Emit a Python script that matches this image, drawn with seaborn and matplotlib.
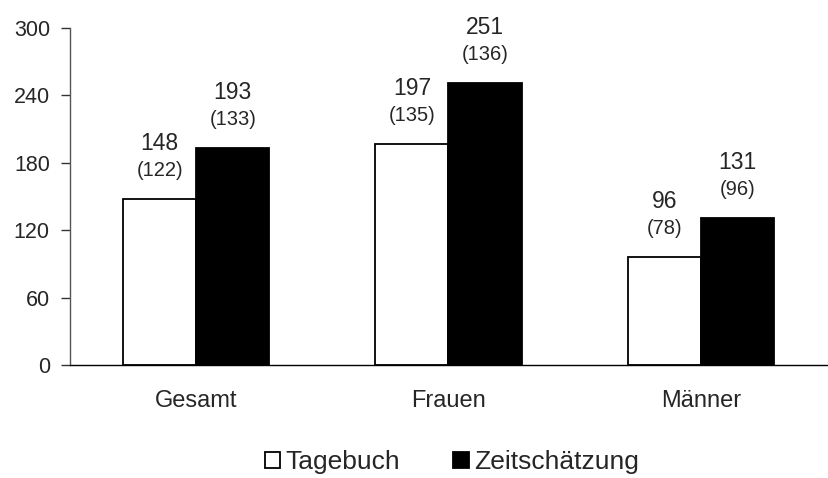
import matplotlib
matplotlib.use("Agg")
import matplotlib.pyplot as plt
import seaborn as sns
import pandas as pd

categories = ["Gesamt", "Frauen", "Männer"]
series = ["Tagebuch", "Zeitschätzung"]
tagebuch = [148, 197, 96]
zeitschaetzung = [193, 251, 131]
tagebuch_n = [122, 135, 78]
zeitschaetzung_n = [133, 136, 96]
yticks = [0, 60, 120, 180, 240, 300]

sns.set_style("white")
plt.rcParams["font.family"] = ["Liberation Sans", "DejaVu Sans"]

df = pd.DataFrame({
    "Gruppe": categories * 2,
    "Serie": [series[0]] * 3 + [series[1]] * 3,
    "Wert": tagebuch + zeitschaetzung,
    "N": tagebuch_n + zeitschaetzung_n,
})

fig = plt.figure(figsize=(8.29, 4.78), dpi=100)
ax = fig.add_axes([70 / 829, 1 - 365 / 478, (827 - 70) / 829, (365 - 28) / 478])

sns.barplot(data=df, x="Gruppe", y="Wert", hue="Serie", order=categories,
            hue_order=series, palette={"Tagebuch": "white", "Zeitschätzung": "black"},
            edgecolor="black", linewidth=1.3, width=0.58, gap=0, ax=ax,
            errorbar=None, saturation=1)

ax.set_xlim(-0.5, 2.5)
ax.set_ylim(0, 300)
ax.set_yticks(yticks)
ax.set_yticklabels([str(v) for v in yticks], fontsize=15.5)
ax.set_xlabel("")
ax.set_ylabel("")
ax.tick_params(axis="x", length=0, labelsize=17, pad=18)
ax.tick_params(axis="y", left=True, length=6.5, width=1, color="#333333", direction="out", pad=8)
for s in ["top", "right"]:
    ax.spines[s].set_visible(False)
ax.spines["left"].set_color("#555555")
ax.spines["left"].set_linewidth(1)
ax.spines["bottom"].set_color("black")
ax.spines["bottom"].set_linewidth(1)

for container, vals, ns in zip(ax.containers, [tagebuch, zeitschaetzung], [tagebuch_n, zeitschaetzung_n]):
    for bar, v, n in zip(container, vals, ns):
        xc = bar.get_x() + bar.get_width() / 2
        top = bar.get_height()
        ax.annotate(str(v), (xc, top), xytext=(0, 40), textcoords="offset points",
                    ha="center", va="center", fontsize=16.5, annotation_clip=False)
        ax.annotate(f"({n})", (xc, top), xytext=(0, 20.5), textcoords="offset points",
                    ha="center", va="center", fontsize=14.5, annotation_clip=False)

handles, labels = ax.get_legend_handles_labels()
if ax.get_legend() is not None:
    ax.get_legend().remove()
fig.legend(handles, labels, loc="center", bbox_to_anchor=(0.545, 0.033), ncol=2,
           frameon=False, fontsize=19, handlelength=0.6, handleheight=0.6,
           handletextpad=0.2, columnspacing=2.0, borderaxespad=0)

fig.savefig("out.png", dpi=100)
